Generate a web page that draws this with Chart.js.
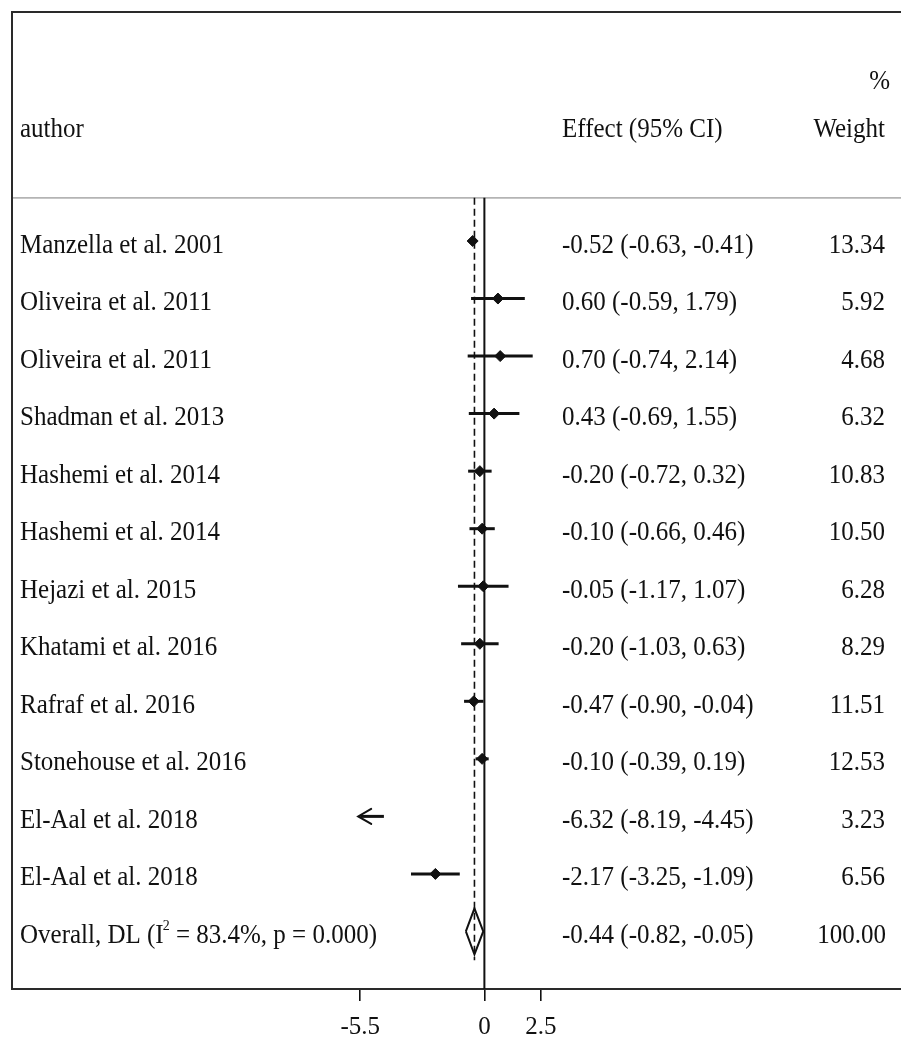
<!DOCTYPE html>
<html>
<head>
<meta charset="utf-8">
<script src="https://cdn.jsdelivr.net/npm/chart.js@4/dist/chart.umd.min.js"></script>
<style>
  html, body { margin: 0; padding: 0; background: #fff; }
  canvas { display: block; }
</style>
</head>
<body>
<canvas id="forest" width="901" height="1037"></canvas>
<script>
// Study rows
const authors = [
  "Manzella et al. 2001",
  "Oliveira et al. 2011",
  "Oliveira et al. 2011",
  "Shadman et al. 2013",
  "Hashemi et al. 2014",
  "Hashemi et al. 2014",
  "Hejazi et al. 2015",
  "Khatami et al. 2016",
  "Rafraf et al. 2016",
  "Stonehouse et al. 2016",
  "El-Aal et al. 2018",
  "El-Aal et al. 2018"
];
const effects  = [-0.52, 0.60, 0.70, 0.43, -0.20, -0.10, -0.05, -0.20, -0.47, -0.10, -6.32, -2.17];
const ciLower  = [-0.63, -0.59, -0.74, -0.69, -0.72, -0.66, -1.17, -1.03, -0.90, -0.39, -8.19, -3.25];
const ciUpper  = [-0.41, 1.79, 2.14, 1.55, 0.32, 0.46, 1.07, 0.63, -0.04, 0.19, -4.45, -1.09];
const weights  = [13.34, 5.92, 4.68, 6.32, 10.83, 10.50, 6.28, 8.29, 11.51, 12.53, 3.23, 6.56];

// Pooled estimate
const overallLabel = ["Overall, DL (I", "2", " = 83.4%, p = 0.000)"];
const overallEffect = -0.44;
const overallLower = -0.82;
const overallUpper = -0.05;
const overallWeight = 100.00;

// Axis
const tickValues = [-5.5, 0, 2.5];
const tickLabels = ["-5.5", "0", "2.5"];
const plotMin = -5.5;
const plotMax = 2.5;

// Column headings
const headings = { col1: "author", col2: "Effect (95% CI)", col3a: "%", col3b: "Weight" };

const SERIF = '"Liberation Serif", "Times New Roman", serif';
const INK = '#111';

const nStudies = authors.length;
const overallRow = nStudies;
const headerRule = -0.75;

function fmt(v) { return v.toFixed(2); }

// Datasets: one CI segment per study, clipped to the plot range
const datasets = [];
authors.forEach((a, i) => {
  const lo = Math.max(ciLower[i], plotMin);
  const hi = Math.min(ciUpper[i], plotMax);
  datasets.push({
    type: 'scatter', showLine: true,
    data: [{ x: lo, y: i }, { x: hi, y: i }],
    borderColor: '#111', borderWidth: 3, pointRadius: 0, fill: false
  });
});

// Point estimates (only those inside the plot range)
datasets.push({
  type: 'scatter',
  data: effects.map((e, i) => ({ x: e, y: i })).filter(p => p.x >= plotMin && p.x <= plotMax),
  pointStyle: 'rectRot', pointRadius: 5.5, pointBackgroundColor: '#111', pointBorderColor: '#111',
  pointBorderWidth: 1, showLine: false
});

// Line of no effect
datasets.push({
  type: 'scatter', showLine: true,
  data: [{ x: 0, y: headerRule }, { x: 0, y: overallRow + 1.1 }],
  borderColor: '#111', borderWidth: 2, pointRadius: 0
});

// Overall estimate reference (dashed)
datasets.push({
  type: 'scatter', showLine: true,
  data: [{ x: overallEffect, y: headerRule }, { x: overallEffect, y: overallRow + 0.5 }],
  borderColor: '#111', borderWidth: 1.6, borderDash: [7, 4], pointRadius: 0
});

// Overall diamond
datasets.push({
  type: 'scatter', showLine: true,
  data: [
    { x: overallLower, y: overallRow },
    { x: overallEffect, y: overallRow - 0.4 },
    { x: overallUpper, y: overallRow },
    { x: overallEffect, y: overallRow + 0.4 },
    { x: overallLower, y: overallRow }
  ],
  borderColor: '#111', borderWidth: 2, pointRadius: 0, fill: false, tension: 0
});

function drawText(ctx, text, x, y, align) {
  ctx.save();
  ctx.translate(x, y);
  ctx.scale(1, 1.08);
  ctx.textAlign = align || 'left';
  ctx.textBaseline = 'alphabetic';
  ctx.fillText(text, 0, 0);
  ctx.restore();
}

const framePlugin = {
  id: 'forestFrame',
  beforeDatasetsDraw(chart) {
    const { ctx, chartArea: a, scales: { y } } = chart;
    ctx.save();
    // header separator
    const yr = y.getPixelForValue(headerRule);
    ctx.strokeStyle = '#b4b4b4';
    ctx.lineWidth = 1.6;
    ctx.beginPath(); ctx.moveTo(a.left, yr); ctx.lineTo(a.right, yr); ctx.stroke();
    // outer frame: left and top
    ctx.strokeStyle = '#2a2a2a';
    ctx.lineWidth = 2;
    ctx.beginPath();
    ctx.moveTo(a.left, a.bottom); ctx.lineTo(a.left, a.top); ctx.lineTo(a.right, a.top);
    ctx.stroke();
    ctx.restore();
  },
  afterDatasetsDraw(chart) {
    const { ctx, scales: { x, y } } = chart;
    ctx.save();
    // arrows for intervals running past the plot range
    ctx.strokeStyle = '#111';
    ctx.lineWidth = 2;
    ctx.lineCap = 'round';
    authors.forEach((a, i) => {
      const py = y.getPixelForValue(i);
      if (ciLower[i] < plotMin) {
        const tx = x.getPixelForValue(plotMin) - 2;
        ctx.beginPath();
        ctx.moveTo(tx + 13, py - 7.5); ctx.lineTo(tx, py); ctx.lineTo(tx + 13, py + 7.5);
        ctx.stroke();
      }
      if (ciUpper[i] > plotMax) {
        const tx = x.getPixelForValue(plotMax) + 2;
        ctx.beginPath();
        ctx.moveTo(tx - 13, py - 7.5); ctx.lineTo(tx, py); ctx.lineTo(tx - 13, py + 7.5);
        ctx.stroke();
      }
    });
    ctx.restore();
  },
  afterDraw(chart) {
    const { ctx, chartArea: a, scales: { y } } = chart;
    const colAuthor = a.left + 8;
    const colEffect = 562;
    const colWeight = 885;
    const base = 11.5;
    ctx.save();
    ctx.fillStyle = INK;
    ctx.font = '25px ' + SERIF;

    // headings
    const yh2 = y.getPixelForValue(-2) + base;
    const yh1 = y.getPixelForValue(-2.85) + base;
    drawText(ctx, headings.col1, colAuthor, yh2);
    drawText(ctx, headings.col2, colEffect, yh2);
    drawText(ctx, headings.col3b, colWeight, yh2, 'right');
    drawText(ctx, headings.col3a, colWeight + 5, yh1, 'right');

    // study rows
    authors.forEach((name, i) => {
      const py = y.getPixelForValue(i) + base;
      drawText(ctx, name, colAuthor, py);
      drawText(ctx, fmt(effects[i]) + ' (' + fmt(ciLower[i]) + ', ' + fmt(ciUpper[i]) + ')', colEffect, py);
      drawText(ctx, fmt(weights[i]), colWeight, py, 'right');
    });

    // overall row with superscript
    const po = y.getPixelForValue(overallRow) + base;
    drawText(ctx, overallLabel[0], colAuthor, po);
    const w0 = ctx.measureText(overallLabel[0]).width;
    ctx.font = '14px ' + SERIF;
    drawText(ctx, overallLabel[1], colAuthor + w0 - 1, po - 13);
    ctx.font = '25px ' + SERIF;
    drawText(ctx, overallLabel[2], colAuthor + w0 + 6, po);
    drawText(ctx, fmt(overallEffect) + ' (' + fmt(overallLower) + ', ' + fmt(overallUpper) + ')', colEffect, po);
    drawText(ctx, fmt(overallWeight), colWeight + 1, po, 'right');
    ctx.restore();
  }
};

new Chart(document.getElementById('forest'), {
  type: 'scatter',
  data: { datasets },
  options: {
    responsive: false,
    animation: false,
    devicePixelRatio: 1,
    layout: { autoPadding: false, padding: { left: 12, top: 12, right: 0, bottom: 0 } },
    plugins: { legend: { display: false }, tooltip: { enabled: false } },
    scales: {
      x: {
        type: 'linear',
        min: -20.92,
        max: 18.45,
        afterBuildTicks: s => { s.ticks = tickValues.map(v => ({ value: v })); },
        afterFit: s => { s.height = 48; },
        ticks: {
          autoSkip: false, maxRotation: 0, padding: 11, color: INK,
          font: { family: SERIF, size: 25 },
          callback: (v) => { const k = tickValues.indexOf(v); return k >= 0 ? tickLabels[k] : ''; }
        },
        grid: { display: true, drawOnChartArea: false, drawTicks: true, tickLength: 12, color: '#111', lineWidth: 1.6 },
        border: { display: true, color: '#2a2a2a', width: 2 }
      },
      y: {
        type: 'linear',
        display: false,
        reverse: true,
        min: -3.98,
        max: 13.0
      }
    }
  },
  plugins: [framePlugin]
});
</script>
</body>
</html>
